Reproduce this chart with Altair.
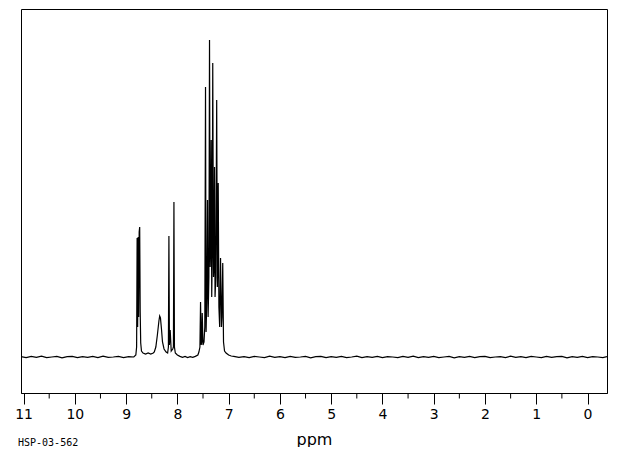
import altair as alt
import pandas as pd

# ---- data ----
# baseline (left of peaks): ppm and small noise
ppm_left = [11.05, 10.95, 10.85, 10.75, 10.65, 10.55, 10.45, 10.35, 10.25, 10.15, 10.05,
            9.95, 9.85, 9.75, 9.65, 9.55, 9.45, 9.35, 9.25, 9.15, 9.05, 8.95, 8.85]
noise_left = [0.3, -0.6, 0.6, -0.3, 0.8, -0.6, 0, 0.6, -0.8, 0.3, 0.6,
              -0.6, 0.3, -0.3, 0.6, -0.6, 0.8, -0.3, 0, 0.6, -0.6, 0.3, 0]

# peak region
pk_ppm = [8.81, 8.795, 8.785, 8.775, 8.765, 8.755, 8.745, 8.735, 8.725, 8.715,
          8.70, 8.67, 8.62, 8.57, 8.52, 8.47, 8.45, 8.42, 8.39, 8.36,
          8.345, 8.33, 8.31, 8.29, 8.26, 8.22, 8.19, 8.175, 8.165, 8.155,
          8.14, 8.12, 8.09, 8.077, 8.067, 8.057, 8.04, 8.00, 7.95, 7.90,
          7.85, 7.80, 7.75, 7.70, 7.65, 7.60, 7.58, 7.56, 7.548, 7.535,
          7.525, 7.515, 7.50, 7.48, 7.465, 7.451, 7.44, 7.425, 7.412, 7.40,
          7.385, 7.373, 7.36, 7.35, 7.340, 7.33, 7.32, 7.310, 7.295, 7.285,
          7.275, 7.265, 7.25, 7.233, 7.22, 7.213, 7.203, 7.19, 7.175, 7.158,
          7.14, 7.13, 7.115, 7.10, 7.08, 7.05, 7.00, 6.95]
pk_h = [2, 10, 119, 30, 120, 40, 125, 130, 45, 14,
        6, 4, 3, 4, 3, 4, 5, 10, 22, 36,
        41, 39, 28, 15, 8, 5, 4, 10, 121, 12,
        27, 6, 8, 10, 155, 10, 4, 2, 0.6, -0.3,
        0.6, -0.6, 0.3, -0.3, 0.6, 2, 5, 10, 55, 12,
        15, 44, 12, 15, 30, 270, 25, 60, 157, 40,
        80, 317, 90, 110, 217, 60, 100, 294, 80, 90,
        190, 60, 80, 257, 70, 90, 174, 50, 30, 99,
        30, 40, 94, 15, 6, 4, 2, 1]

# baseline (right of peaks)
ppm_right = [6.90, 6.80, 6.70, 6.60, 6.50, 6.40, 6.30, 6.20, 6.10, 6.00,
             5.90, 5.80, 5.70, 5.60, 5.50, 5.40, 5.30, 5.20, 5.10, 5.00,
             4.90, 4.80, 4.70, 4.60, 4.50, 4.40, 4.30, 4.20, 4.10, 4.00,
             3.90, 3.80, 3.70, 3.60, 3.50, 3.40, 3.30, 3.20, 3.10, 3.00,
             2.90, 2.80, 2.70, 2.60, 2.50, 2.40, 2.30, 2.20, 2.10, 2.00,
             1.90, 1.80, 1.70, 1.60, 1.50, 1.40, 1.30, 1.20, 1.10, 1.00,
             0.90, 0.80, 0.70, 0.60, 0.50, 0.40, 0.30, 0.20, 0.10, 0.00,
             -0.10, -0.20, -0.30, -0.38]
noise_right = [0.6, -0.3, 0.3, -0.6, 0.6, 0, -0.6, 0.8, -0.3, 0.3,
               -0.6, 0.6, -0.3, 0, 0.6, -0.8, 0.3, 0.6, -0.6, 0.3,
               -0.3, 0.6, -0.6, 0, 0.8, -0.6, 0.3, -0.3, 0.6, -0.6,
               0.3, 0, -0.6, 0.6, -0.3, 0.8, -0.6, 0.3, -0.3, 0.6,
               -0.6, 0, 0.6, -0.8, 0.3, -0.3, 0.6, -0.6, 0.3, 0.6,
               -0.6, 0, 0.3, -0.6, 0.8, -0.3, 0.3, -0.6, 0.6, 0,
               -0.6, 0.6, -0.3, 0.3, 0.6, -0.8, 0.3, -0.3, 0.6, -0.6,
               0.3, 0, -0.6, 0.3]

major_ticks = [0, 1, 2, 3, 4, 5, 6, 7, 8, 9, 10, 11]
minor_ticks = [0.5, 1.5, 2.5, 3.5, 4.5, 5.5, 6.5, 7.5, 8.5, 9.5, 10.5]
code_label = ["HSP-03-562"]

df = pd.DataFrame({
    "ppm": ppm_left + pk_ppm + ppm_right,
    "intensity": noise_left + pk_h + noise_right,
})

xscale = alt.Scale(domain=[11.05, -0.38], nice=False, zero=False)

line = alt.Chart(df).mark_line(color="black", strokeWidth=1.2, clip=True).encode(
    x=alt.X(
        "ppm:Q",
        scale=xscale,
        axis=alt.Axis(
            values=major_ticks,
            tickSize=11,
            format="d",
            labelPadding=3,
            titlePadding=10,
            grid=False,
        ),
        title="ppm",
    ),
    y=alt.Y("intensity:Q", scale=alt.Scale(domain=[-36, 348], nice=False, zero=False), axis=None),
)

minor = alt.Chart(pd.DataFrame({"ppm": minor_ticks})).mark_rule(color="black", strokeWidth=1).encode(
    x=alt.X("ppm:Q", scale=xscale),
    y=alt.value(384),
    y2=alt.value(389.5),
)

label = alt.Chart(pd.DataFrame({"label": code_label})).mark_text(
    align="left", baseline="middle", fontSize=10, font="DejaVu Sans Mono", color="black"
).encode(x=alt.value(-3), y=alt.value(434), text="label:N")

chart = alt.layer(line, minor, label).properties(
    width=586, height=384, autosize="none",
    padding={"left": 13, "top": 1, "right": 5, "bottom": 54},
).configure_view(stroke="black", strokeWidth=1).configure_axis(
    domainColor="black", tickColor="black", labelColor="black", titleColor="black",
    labelFont="DejaVu Sans", labelFontSize=14, titleFont="DejaVu Sans", titleFontSize=16,
    titleFontWeight="normal", domainWidth=1, tickWidth=1,
)

chart.save("out.html", embed_options={"renderer": "svg", "actions": False})
